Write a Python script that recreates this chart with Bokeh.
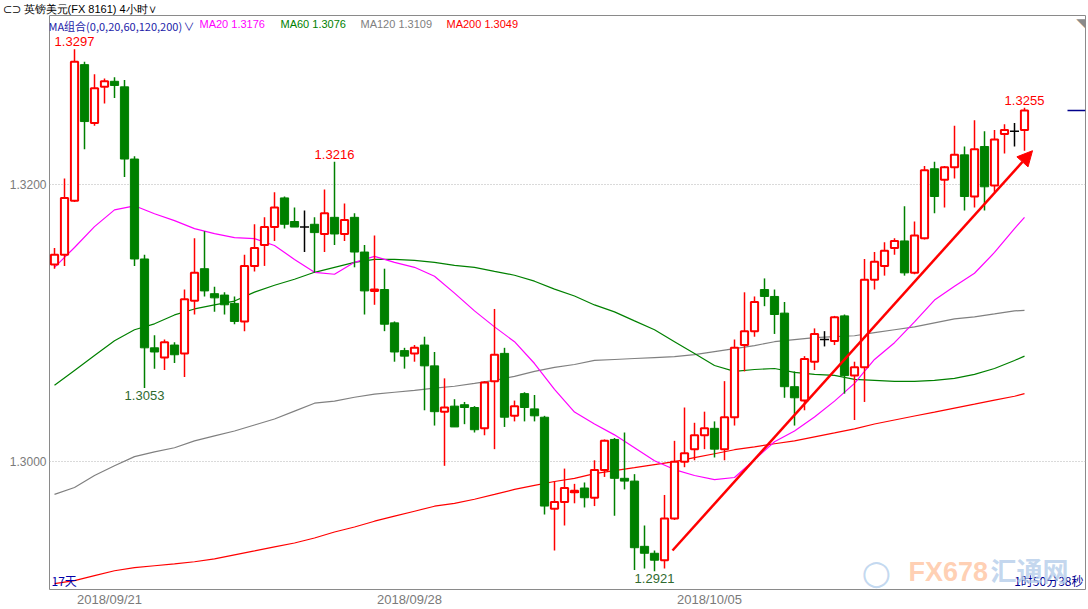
import numpy as np
from bokeh.plotting import figure
from bokeh.models import (FixedTicker, Label, Arrow, NormalHead, Range1d,
                          NumeralTickFormatter, Title)
from bokeh.embed import file_html
from bokeh.resources import INLINE
from bokeh.core.properties import value

# ---------------- data (GBP/USD, 4-hour candles) ----------------
opens = [1.3142, 1.3149, 1.3188, 1.3286, 1.3244, 1.3270, 1.3274, 1.3270, 1.3218, 1.3146,
         1.3082, 1.3075, 1.3084, 1.3078, 1.3116, 1.3139, 1.3121, 1.3120, 1.3114, 1.3101,
         1.3141, 1.3156, 1.3169, 1.3190, 1.3173, 1.3169, 1.3171, 1.3164, 1.3176, 1.3164,
         1.3176, 1.3151, 1.3123, 1.3124, 1.3100, 1.3080, 1.3078, 1.3084, 1.3069, 1.3036,
         1.3040, 1.3041, 1.3039, 1.3024, 1.3058, 1.3078, 1.3033, 1.3049, 1.3038, 1.3032,
         1.2966, 1.2971, 1.2978, 1.2981, 1.2974, 1.2994, 1.3016, 1.2988, 1.2986, 1.2939,
         1.2934, 1.2929, 1.2959, 1.3000, 1.3009, 1.3019, 1.3024, 1.3009, 1.3032, 1.3084,
         1.3094, 1.3124, 1.3119, 1.3107, 1.3054, 1.3044, 1.3072, 1.3088, 1.3087, 1.3105,
         1.3062, 1.3068, 1.3131, 1.3141, 1.3154, 1.3159, 1.3136, 1.3161, 1.3211, 1.3203,
         1.3212, 1.3221, 1.3191, 1.3227, 1.3199, 1.3236, 1.3238, 1.3239]
highs = [1.3154, 1.3204, 1.3297, 1.3288, 1.3279, 1.3276, 1.3277, 1.3275, 1.3220, 1.3149,
         1.3091, 1.3088, 1.3086, 1.3124, 1.3161, 1.3166, 1.3126, 1.3122, 1.3119, 1.3149,
         1.3171, 1.3176, 1.3194, 1.3191, 1.3183, 1.3181, 1.3176, 1.3196, 1.3216, 1.3186,
         1.3179, 1.3156, 1.3163, 1.3139, 1.3101, 1.3082, 1.3084, 1.3090, 1.3079, 1.3060,
         1.3045, 1.3043, 1.3040, 1.3058, 1.3110, 1.3082, 1.3044, 1.3050, 1.3048, 1.3033,
         1.2986, 1.2995, 1.2984, 1.2985, 1.3001, 1.3016, 1.3017, 1.3021, 1.2991, 1.2954,
         1.2936, 1.2976, 1.3015, 1.3039, 1.3028, 1.3036, 1.3029, 1.3058, 1.3088, 1.3122,
         1.3119, 1.3132, 1.3124, 1.3115, 1.3065, 1.3076, 1.3096, 1.3094, 1.3105, 1.3106,
         1.3072, 1.3146, 1.3151, 1.3158, 1.3161, 1.3184, 1.3173, 1.3213, 1.3216, 1.3213,
         1.3242, 1.3227, 1.3246, 1.3238, 1.3239, 1.3243, 1.3244, 1.3255]
lows = [1.3139, 1.3141, 1.3187, 1.3225, 1.3242, 1.3258, 1.3262, 1.3205, 1.3141, 1.3053,
        1.3067, 1.3066, 1.3071, 1.3061, 1.3106, 1.3119, 1.3108, 1.3106, 1.3099, 1.3094,
        1.3137, 1.3141, 1.3159, 1.3168, 1.3169, 1.3151, 1.3136, 1.3151, 1.3156, 1.3159,
        1.3140, 1.3106, 1.3113, 1.3094, 1.3072, 1.3067, 1.3072, 1.3037, 1.3026, 1.2997,
        1.3025, 1.3027, 1.3021, 1.3019, 1.3009, 1.3025, 1.3029, 1.3029, 1.3029, 1.2962,
        1.2936, 1.2954, 1.2970, 1.2967, 1.2968, 1.2989, 1.2961, 1.2980, 1.2922, 1.2923,
        1.2921, 1.2923, 1.2958, 1.2996, 1.3001, 1.3009, 1.3003, 1.3001, 1.3026, 1.3065,
        1.3090, 1.3112, 1.3092, 1.3046, 1.3026, 1.3037, 1.3066, 1.3083, 1.3084, 1.3049,
        1.3030, 1.3043, 1.3124, 1.3134, 1.3149, 1.3134, 1.3135, 1.3160, 1.3179, 1.3183,
        1.3204, 1.3181, 1.3183, 1.3181, 1.3194, 1.3222, 1.3227, 1.3224]
closes = [1.3149, 1.3190, 1.3288, 1.3245, 1.3269, 1.3274, 1.3271, 1.3218, 1.3146, 1.3082,
          1.3079, 1.3086, 1.3077, 1.3117, 1.3136, 1.3123, 1.3118, 1.3113, 1.3101, 1.3141,
          1.3154, 1.3169, 1.3183, 1.3171, 1.3169, 1.3169, 1.3165, 1.3179, 1.3164, 1.3174,
          1.3151, 1.3123, 1.3124, 1.3099, 1.3079, 1.3076, 1.3082, 1.3069, 1.3036, 1.3039,
          1.3025, 1.3039, 1.3023, 1.3057, 1.3077, 1.3032, 1.3040, 1.3039, 1.3033, 1.2968,
          1.2971, 1.2981, 1.2979, 1.2974, 1.2994, 1.3015, 1.2988, 1.2986, 1.2938, 1.2934,
          1.2929, 1.2959, 1.3000, 1.3006, 1.3019, 1.3024, 1.3009, 1.3032, 1.3082, 1.3094,
          1.3115, 1.3119, 1.3106, 1.3054, 1.3046, 1.3074, 1.3092, 1.3088, 1.3104, 1.3062,
          1.3068, 1.3131, 1.3144, 1.3152, 1.3159, 1.3136, 1.3163, 1.3210, 1.3191, 1.3212,
          1.3221, 1.3191, 1.3225, 1.3198, 1.3232, 1.3239, 1.3238, 1.3253]

# moving averages, read at every second candle (plus the last one)
ma_idx = list(range(0, 97, 2)) + [97]
ma20 = [1.3140, 1.31543, 1.31693, 1.31814, 1.31843, 1.31786, 1.31736, 1.31679, 1.31643, 1.31614,
        1.31607, 1.31557, 1.31457, 1.31364, 1.3135, 1.31436, 1.31479, 1.31436, 1.3140, 1.31336,
        1.31214, 1.31086, 1.30971, 1.30864, 1.30707, 1.30521, 1.30357, 1.30271, 1.30193, 1.3010,
        1.30007, 1.29943, 1.2990, 1.29871, 1.29886, 1.30014, 1.30143, 1.30221, 1.30321, 1.30436,
        1.30564, 1.30736, 1.30857, 1.31007, 1.31164, 1.31264, 1.31357, 1.31507, 1.31679, 1.3176]
ma60 = [1.3055, 1.30657, 1.30764, 1.30871, 1.3095, 1.30993, 1.31057, 1.3110, 1.31129, 1.31157,
        1.31221, 1.31271, 1.31314, 1.31364, 1.3140, 1.31436, 1.31457, 1.31457, 1.3145, 1.31436,
        1.31414, 1.3140, 1.31371, 1.31343, 1.3130, 1.31243, 1.31193, 1.31129, 1.31079, 1.31014,
        1.3095, 1.30864, 1.30779, 1.30693, 1.3065, 1.30664, 1.30671, 1.30643, 1.30629, 1.30621,
        1.30593, 1.30586, 1.30579, 1.30579, 1.30586, 1.3060, 1.30629, 1.30671, 1.30729, 1.3076]
ma120 = [1.29764, 1.29814, 1.2990, 1.29971, 1.30036, 1.30071, 1.3010, 1.3015, 1.30186, 1.30221,
         1.30264, 1.30307, 1.30364, 1.30421, 1.30436, 1.30464, 1.30486, 1.3050, 1.30514, 1.30529,
         1.30543, 1.30564, 1.30586, 1.30614, 1.3065, 1.30679, 1.3070, 1.30729, 1.30736, 1.30743,
         1.3075, 1.30757, 1.30771, 1.30793, 1.30814, 1.30836, 1.30864, 1.30879, 1.30893, 1.3090,
         1.30907, 1.30929, 1.3095, 1.30971, 1.3100, 1.31029, 1.31043, 1.31064, 1.31086, 1.3109]
ma200 = [1.29121, 1.29143, 1.29179, 1.29214, 1.29236, 1.2925, 1.29264, 1.29279, 1.2930, 1.29329,
         1.29357, 1.29386, 1.29414, 1.2945, 1.29493, 1.29529, 1.29571, 1.29607, 1.29643, 1.29679,
         1.2970, 1.29729, 1.29764, 1.2980, 1.29829, 1.29857, 1.29879, 1.29914, 1.29936, 1.29957,
         1.29979, 1.3000, 1.30029, 1.30057, 1.30086, 1.30107, 1.30129, 1.3015, 1.30179, 1.30207,
         1.30236, 1.30271, 1.3030, 1.30329, 1.30357, 1.30386, 1.30414, 1.30443, 1.30471, 1.3049]

date_ticks = [5.5, 35.5, 65.5]
date_labels = ["2018/09/21", "2018/09/28", "2018/10/05"]
price_ticks = [1.30, 1.32]

high_marks = [2, 28, 97]     # candles whose high is labelled
low_marks = [9, 60]          # candles whose low is labelled

trend_x = [61.8, 97.8]       # hand-drawn trend arrow (candle index)
trend_y = [1.2936, 1.3224]   # (price)

header = "⊂⊃ 英镑美元(FX 8161)   4小时∨"
ma_title = "MA组合(0,0,20,60,120,200)"

# ---------------- styling ----------------
RED = "#ff0000"
GREEN = "#008000"
MAGENTA = "#ff00ff"
GRAY = "#808080"
Y0, Y1 = 1.29079, 1.33214
X0, X1 = -0.5, 103.1

p = figure(width=1088, height=609, x_range=Range1d(X0, X1), y_range=Range1d(Y0, Y1),
           output_backend="svg", toolbar_location=None,
           min_border_left=49, min_border_right=3, min_border_top=14, min_border_bottom=16)
p.background_fill_color = "white"
p.border_fill_color = "white"
p.outline_line_color = "#8a8a8a"
p.outline_line_width = 1

# header above the frame
p.add_layout(Title(text=header, align="left", offset=-47, standoff=1,
                   text_font="Liberation Sans", text_font_size="11px",
                   text_font_style="normal", text_color="#000000"), "above")
# corner triangle
p.add_layout(Label(x=X1, y=Y1, x_offset=0, y_offset=0, text="◥", text_color="#8a8a8a",
                   text_font="DejaVu Sans", text_font_size="12px", text_baseline="top",
                   text_align="right"))

# axes
p.yaxis.ticker = FixedTicker(ticks=price_ticks)
p.yaxis.formatter = NumeralTickFormatter(format="0.0000")
p.yaxis.major_tick_line_color = None
p.yaxis.minor_tick_line_color = None
p.yaxis.axis_line_color = None
p.yaxis.major_tick_out = 0
p.yaxis.major_tick_in = 0
p.yaxis.major_label_standoff = 3
p.yaxis.major_label_text_color = "#7a7a7a"
p.yaxis.major_label_text_font = "Liberation Sans"
p.yaxis.major_label_text_font_size = "12px"

p.xaxis.ticker = FixedTicker(ticks=date_ticks)
p.xaxis.major_label_overrides = {t: s for t, s in zip(date_ticks, date_labels)}
p.xaxis.major_tick_line_color = None
p.xaxis.minor_tick_line_color = None
p.xaxis.axis_line_color = None
p.xaxis.major_tick_out = 0
p.xaxis.major_tick_in = 0
p.xaxis.major_label_standoff = 2
p.xaxis.major_label_text_color = "#7a7a7a"
p.xaxis.major_label_text_font = "Liberation Sans"
p.xaxis.major_label_text_font_size = "13px"

p.xgrid.visible = False
p.ygrid.grid_line_color = "#b4b4b4"
p.ygrid.grid_line_dash = "1 2"

# moving averages
p.line(ma_idx, ma200, color=RED, line_width=1.2)
p.line(ma_idx, ma120, color=GRAY, line_width=1.2)
p.line(ma_idx, ma60, color=GREEN, line_width=1.2)
p.line(ma_idx, ma20, color=MAGENTA, line_width=1.2)

# candles
o = np.array(opens); c = np.array(closes); h = np.array(highs); l = np.array(lows)
x = np.arange(len(o))
up = c > o
dn = c < o
eq = c == o

p.segment(x[up], h[up], x[up], l[up], color=RED, line_width=1.5)
p.vbar(x=x[up], top=c[up], bottom=o[up], width=0.72, fill_color="white",
       line_color=RED, line_width=2)
p.segment(x[dn], h[dn], x[dn], l[dn], color=GREEN, line_width=1.5)
p.vbar(x=x[dn], top=o[dn], bottom=c[dn], width=0.82, fill_color=GREEN,
       line_color=GREEN, line_width=1)
p.segment(x[eq], h[eq], x[eq], l[eq], color="black", line_width=1.5)
p.segment(x[eq] - 0.45, c[eq], x[eq] + 0.45, c[eq], color="black", line_width=1.5)

# extreme labels
p.text(x=high_marks, y=[highs[i] for i in high_marks],
       text=[f"{highs[i]:.4f}" for i in high_marks],
       text_align="center", text_baseline="bottom", y_offset=-3,
       text_color=RED, text_font=value("Liberation Sans"), text_font_size="13px")
p.text(x=low_marks, y=[lows[i] for i in low_marks],
       text=[f"{lows[i]:.4f}" for i in low_marks],
       text_align="center", text_baseline="top", y_offset=3,
       text_color="#2f6a2f", text_font=value("Liberation Sans"), text_font_size="13px")

# current price marker on the right edge
p.segment(x0=[101.3], y0=[closes[-1]], x1=[X1], y1=[closes[-1]], color="#00008b", line_width=1.5)

# trend arrow
p.add_layout(Arrow(end=NormalHead(size=15, fill_color=RED, line_color=RED),
                   x_start=trend_x[0], y_start=trend_y[0], x_end=trend_x[1], y_end=trend_y[1],
                   line_color=RED, line_width=2.5))

# MA legend row
legend_items = [
    (ma_title, "#1c1ca8", -1, "Noto Sans CJK SC"),
    ("∨", "#1c1ca8", 134, "Noto Sans CJK SC"),
    (f"MA20 {ma20[-1]:.4f}", MAGENTA, 150, "Liberation Sans"),
    (f"MA60 {ma60[-1]:.4f}", GREEN, 231, "Liberation Sans"),
    (f"MA120 {ma120[-1]:.4f}", GRAY, 311, "Liberation Sans"),
    (f"MA200 {ma200[-1]:.4f}", RED, 397, "Liberation Sans"),
]
for txt, col, xo, fnt in legend_items:
    p.add_layout(Label(x=X0, y=Y1, x_offset=xo, y_offset=-2, text=txt, text_color=col,
                       text_font=fnt, text_font_size="11px", text_baseline="top"))

# bottom-corner texts
p.add_layout(Label(x=X0, y=Y0, x_offset=2, y_offset=1, text="17天", text_color="#0000aa",
                   text_font="Noto Sans CJK SC", text_font_size="12px", text_baseline="bottom"))
p.add_layout(Label(x=X1, y=Y0, x_offset=-2, y_offset=1, text="1时50分38秒", text_color="#000090",
                   text_font="Noto Sans CJK SC", text_font_size="12px", text_baseline="bottom",
                   text_align="right"))

# watermark
p.add_layout(Label(x=X0, y=Y0, x_offset=812, y_offset=-2, text="○", text_color="#bcd4ee",
                   text_font="DejaVu Sans", text_font_size="34px", text_baseline="bottom",
                   text_alpha=0.9))
p.add_layout(Label(x=X0, y=Y0, x_offset=859, y_offset=3, text="FX678", text_color="#ffc4a0",
                   text_font="Liberation Sans", text_font_size="27px", text_font_style="bold",
                   text_baseline="bottom", text_alpha=0.8))
p.add_layout(Label(x=X0, y=Y0, x_offset=941, y_offset=2, text="汇通网", text_color="#b4cdea",
                   text_font="Noto Sans CJK SC", text_font_size="26px", text_font_style="bold",
                   text_baseline="bottom", text_alpha=0.8))

open("out.html", "w").write(file_html(p, INLINE))
